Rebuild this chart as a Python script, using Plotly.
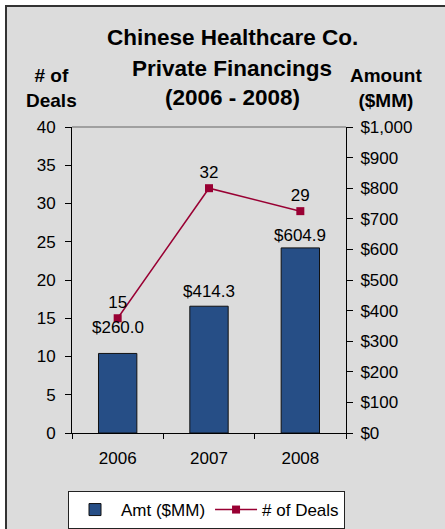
import plotly.graph_objects as go

# ---- data ----
years = ["2006", "2007", "2008"]
amount_mm = [260.0, 414.3, 604.9]
num_deals = [15, 32, 29]
title_lines = ["Chinese Healthcare Co.", "Private Financings", "(2006 - 2008)"]

# ---- layout geometry (pixels) ----
W, H = 445, 529
PL, PR, PT, PB = 72, 346, 127, 433  # plot area box


def px_x(x):
    return (x - PL) / (PR - PL)


def px_y(y):
    return (PB - y) / (PB - PT)


FONT = "Liberation Sans, Arial, sans-serif"
BAR_BLUE = "#264E86"
CRIMSON = "#990033"
bar_label_shift = [26, 15, 12]      # px above bar top (label centre)
title_line_y = [38, 68, 98]          # px centres of the title lines

fig = go.Figure()

fig.add_trace(go.Bar(
    x=years, y=amount_mm, name="Amt ($MM)",
    marker=dict(color=BAR_BLUE, line=dict(color="#111111", width=1)),
    yaxis="y",
))

fig.add_trace(go.Scatter(
    x=years, y=num_deals, name="# of Deals",
    mode="lines+markers+text",
    line=dict(color=CRIMSON, width=1.5),
    marker=dict(symbol="square", size=8, color=CRIMSON),
    text=[str(v) for v in num_deals],
    textposition="top center", cliponaxis=False,
    textfont=dict(size=17, color="black", family=FONT),
    yaxis="y2",
))

annotations = []
for i, (v, sh) in enumerate(zip(amount_mm, bar_label_shift)):
    annotations.append(dict(
        x=i, y=v, xref="x", yref="y", text=f"${v:,.1f}",
        showarrow=False, yanchor="middle", xanchor="center", yshift=sh,
        font=dict(size=17, color="black", family=FONT),
    ))
for line, ly in zip(title_lines, title_line_y):
    annotations.append(dict(
        text=f"<b>{line}</b>", xref="paper", yref="paper",
        x=px_x(232), y=px_y(ly), xanchor="center", yanchor="middle",
        showarrow=False, font=dict(size=22.5, color="black", family=FONT),
    ))
annotations += [
    dict(text="<b># of<br>Deals</b>", xref="paper", yref="paper",
         x=px_x(51), y=px_y(88), xanchor="center", yanchor="middle",
         showarrow=False, font=dict(size=19, color="black")),
    dict(text="<b>Amount<br>($MM)</b>", xref="paper", yref="paper",
         x=px_x(386), y=px_y(88), xanchor="center", yanchor="middle",
         showarrow=False, font=dict(size=19, color="black")),
]

fig.update_layout(
    width=W, height=H,
    margin=dict(l=PL, r=W - PR, t=PT, b=H - PB, autoexpand=False),
    paper_bgcolor="white",
    plot_bgcolor="#EAEAEA",
    font=dict(family=FONT, size=17, color="black"),
    bargap=0.58,
    showlegend=True,
    xaxis=dict(
        type="category", categoryorder="array", categoryarray=years,
        range=[-0.5, len(years) - 0.5], autorange=False,
        showline=True, linecolor="black", linewidth=1,
        ticks="outside", tickson="boundaries", ticklen=5, tickcolor="black",
        ticklabelstandoff=10, showgrid=False, zeroline=False,
        tickfont=dict(size=17),
    ),
    yaxis=dict(
        side="right", range=[0, 1000], dtick=100,
        tickprefix="$", tickformat=",d",
        showline=True, linecolor="black", linewidth=1,
        ticks="outside", ticklen=6, tickcolor="black",
        showgrid=False, zeroline=False, tickfont=dict(size=17),
        ticklabelstandoff=4,
    ),
    yaxis2=dict(
        overlaying="y", side="left", range=[0, 40], dtick=5,
        showline=True, linecolor="black", linewidth=1,
        ticks="outside", ticklen=6, tickcolor="black",
        showgrid=False, zeroline=False, tickfont=dict(size=17),
        ticklabelstandoff=6,
    ),
    legend=dict(
        orientation="h", x=px_x(68), y=px_y(491), xanchor="left", yanchor="top",
        bgcolor="white", bordercolor="#222222", borderwidth=1,
        font=dict(size=17, color="black"), traceorder="normal",
        itemwidth=42,
    ),
    shapes=[
        dict(type="rect", xref="paper", yref="paper", layer="below",
             x0=px_x(6), x1=px_x(460), y0=px_y(560), y1=px_y(6),
             fillcolor="#DCDCDC", line=dict(color="#333333", width=2)),
        dict(type="line", xref="paper", yref="paper",
             x0=0, x1=1, y0=1, y1=1, line=dict(color="#8C8C8C", width=1.5)),
    ],
    annotations=annotations,
)

fig.write_html(
    "out.html",
    config={"displayModeBar": False},
    post_script="document.body.style.margin='0';document.body.style.overflow='hidden';",
)
